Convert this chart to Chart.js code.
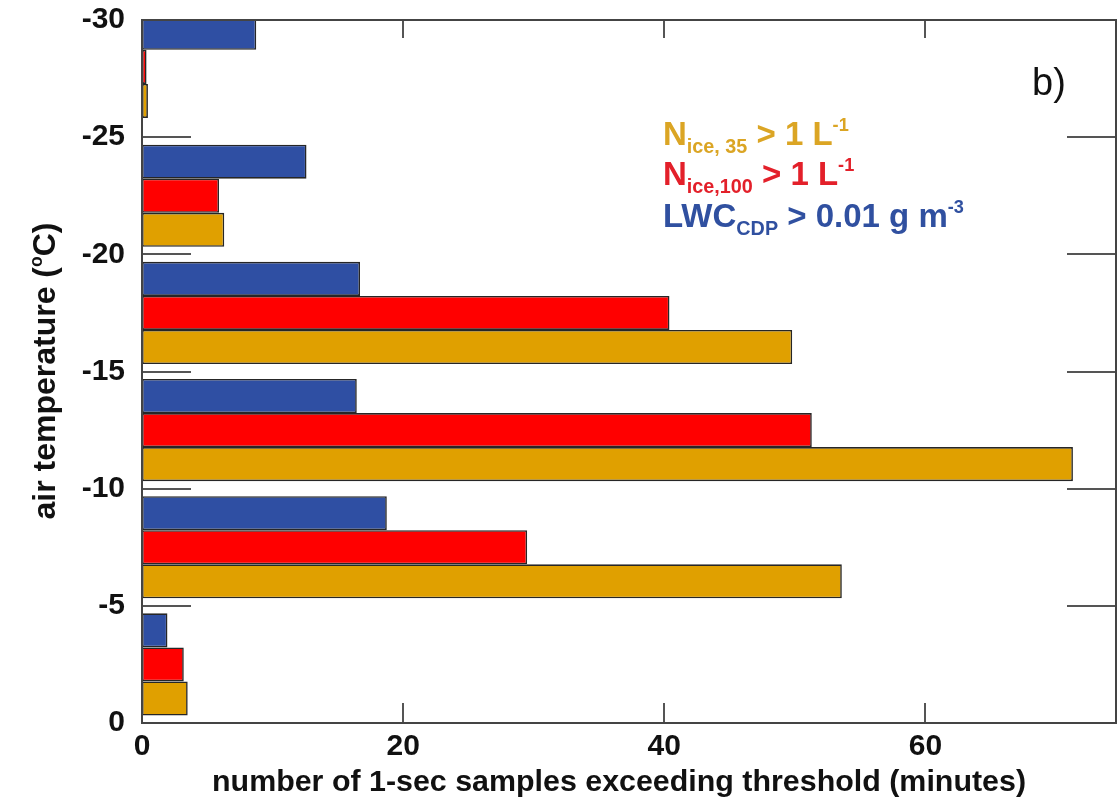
<!DOCTYPE html>
<html>
<head>
<meta charset="utf-8">
<script src="https://cdn.jsdelivr.net/npm/chart.js@4.4.1/dist/chart.umd.min.js"></script>
<style>
  html, body { margin: 0; padding: 0; background: #fff; }
  #wrap { width: 1118px; height: 800px; }
</style>
</head>
<body>
<div id="wrap"><canvas id="chart" width="1118" height="800"></canvas></div>
<script>
// temperature bins (bin centre in degC), warmest first
const binCentres = [-2.5, -7.5, -12.5, -17.5, -22.5, -28];
// minutes of 1-s samples above each threshold, per bin
const nIce35 = [3.5, 53.6, 71.3, 49.8, 6.3, 0.45];
const nIce100 = [3.2, 29.5, 51.3, 40.4, 5.9, 0.35];
const lwcCdp = [1.95, 18.75, 16.45, 16.7, 12.6, 8.75];

const tempTicks = [-30, -25, -20, -15, -10, -5, 0];
const minuteTicks = [0, 20, 40, 60];

const xTitle = "number of 1-sec samples exceeding threshold (minutes)";
const yTitle = [["air temperature (", "base"], ["o", "sup"], ["C)", "base"]];
const panelTag = "b)";

// legend rows: [text, kind]
const legendRows = [
  [["N", "base"], ["ice, 35", "sub"], [" > 1 L", "base"], ["-1", "sup"]],
  [["N", "base"], ["ice,100", "sub"], [" > 1 L", "base"], ["-1", "sup"]],
  [["LWC", "base"], ["CDP", "sub"], [" > 0.01 g m", "base"], ["-3", "sup"]]
];

const colOrange = "#e0a000";
const colRed = "#ff0000";
const colBlue = "#2f4fa3";
const legendColours = ["#dba524", "#e3202a", "#3050a0"];
const FONT = '"Liberation Sans", Arial, sans-serif';

const toPoints = (vals) => vals.map((v, i) => ({ x: v, y: binCentres[i] }));

const barStyle = {
  borderColor: "#262626",
  borderWidth: 1.6,
  borderSkipped: false,
  categoryPercentage: 0.872,
  barPercentage: 1.0,
  clip: 0
};

// draws a run of text pieces with sub/superscripts, left to right
const drawRich = (ctx, parts, x, y, size, weight) => {
  parts.forEach(([txt, kind]) => {
    let s = size, dy = 0;
    if (kind === "sub") { s = size * 0.6; dy = size * 0.25; }
    if (kind === "sup") { s = size * 0.55; dy = -size * 0.42; }
    ctx.font = `${weight} ${s}px ${FONT}`;
    ctx.fillText(txt, x, y + dy);
    x += ctx.measureText(txt).width;
  });
  return x;
};

const richWidth = (ctx, parts, size, weight) => {
  let w = 0;
  parts.forEach(([txt, kind]) => {
    let s = size;
    if (kind === "sub") s = size * 0.6;
    if (kind === "sup") s = size * 0.55;
    ctx.font = `${weight} ${s}px ${FONT}`;
    w += ctx.measureText(txt).width;
  });
  return w;
};

const frameAndTicks = {
  id: "frameAndTicks",
  afterDatasetsDraw(chart) {
    const { ctx, chartArea: a, scales: { x, y } } = chart;
    ctx.save();
    ctx.strokeStyle = "#555";
    ctx.lineWidth = 2;
    ctx.beginPath();
    tempTicks.slice(1, -1).forEach((t) => {
      const py = Math.round(y.getPixelForValue(t));
      ctx.moveTo(a.left, py); ctx.lineTo(a.left + 49, py);
      ctx.moveTo(a.right, py); ctx.lineTo(a.right - 49, py);
    });
    minuteTicks.slice(1).forEach((t) => {
      const px = Math.round(x.getPixelForValue(t));
      ctx.moveTo(px, a.bottom); ctx.lineTo(px, a.bottom - 20);
      ctx.moveTo(px, a.top); ctx.lineTo(px, a.top + 18);
    });
    ctx.stroke();
    ctx.strokeStyle = "#444";
    ctx.strokeRect(a.left, a.top, a.right - a.left, a.bottom - a.top);
    ctx.restore();
  },
  afterDraw(chart) {
    const { ctx } = chart;
    ctx.save();
    ctx.textBaseline = "alphabetic";
    ctx.textAlign = "left";

    // legend text
    const rowY = [145, 185, 227];
    legendRows.forEach((row, i) => {
      ctx.fillStyle = legendColours[i];
      drawRich(ctx, row, 663, rowY[i], 33, "bold");
    });

    // panel tag
    ctx.fillStyle = "#111";
    ctx.font = `normal 38px ${FONT}`;
    ctx.fillText(panelTag, 1032, 95);

    // x title
    ctx.font = `bold 30.4px ${FONT}`;
    ctx.textAlign = "center";
    ctx.fillText(xTitle, 619, 791);

    // y title, rotated
    ctx.textAlign = "left";
    ctx.translate(55, 371);
    ctx.rotate(-Math.PI / 2);
    const w = richWidth(ctx, yTitle, 32, "bold");
    drawRich(ctx, yTitle, -w / 2, 0, 32, "bold");
    ctx.restore();
  }
};

new Chart(document.getElementById("chart"), {
  type: "bar",
  data: {
    datasets: [
      { label: "LWC_CDP > 0.01 g m-3", data: toPoints(lwcCdp), backgroundColor: colBlue, ...barStyle },
      { label: "N_ice,100 > 1 L-1", data: toPoints(nIce100), backgroundColor: colRed, ...barStyle },
      { label: "N_ice,35 > 1 L-1", data: toPoints(nIce35), backgroundColor: colOrange, ...barStyle }
    ]
  },
  options: {
    indexAxis: "y",
    responsive: false,
    animation: false,
    devicePixelRatio: 1,
    layout: { padding: { top: 20, right: 2, left: 0, bottom: 0 } },
    plugins: { legend: { display: false }, tooltip: { enabled: false } },
    scales: {
      x: {
        type: "linear",
        min: 0,
        max: 74.6,
        grid: { display: false, drawTicks: false },
        border: { display: false },
        afterBuildTicks: (s) => { s.ticks = minuteTicks.map((v) => ({ value: v })); },
        ticks: { color: "#111", padding: 6, font: { family: FONT, size: 30, weight: "bold" } },
        afterFit: (s) => { s.height = 77; }
      },
      y: {
        type: "linear",
        offset: false,
        min: -30,
        max: 0,
        reverse: true,
        grid: { display: false, drawTicks: false },
        border: { display: false },
        afterBuildTicks: (s) => { s.ticks = tempTicks.map((v) => ({ value: v })); },
        ticks: { color: "#111", padding: 17, font: { family: FONT, size: 30, weight: "bold" } },
        afterFit: (s) => { s.width = 142; s.paddingTop = 0; s.paddingBottom = 0; }
      }
    }
  },
  plugins: [frameAndTicks]
});
</script>
</body>
</html>
